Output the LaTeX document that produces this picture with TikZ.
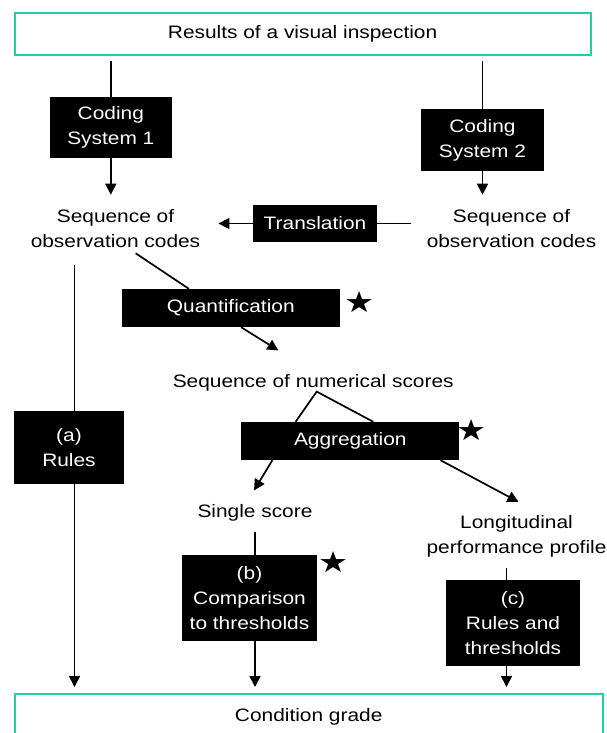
\documentclass[tikz,border=0pt]{standalone}
\usepackage{fontspec}
\setmainfont{Liberation Sans}[FakeStretch=1.16]
\newfontfamily\symfont{DejaVu Sans}[FakeStretch=1.16]
\usetikzlibrary{arrows.meta,calc}
\definecolor{frameteal}{HTML}{1DD1A1}
\begin{document}
\begin{tikzpicture}[x=1pt,y=-1pt,
  font=\fontsize{18}{25}\selectfont,
  blk/.style={fill=black,text=white,align=center,inner sep=0pt},
  txt/.style={align=center,inner sep=0pt},
  frame/.style={draw=frameteal,line width=2pt,inner sep=0pt},
  ln/.style={line width=1.7pt},
  arr/.style={ln,-{Triangle[length=11pt,width=11pt]}},
  starsym/.style={font=\symfont\fontsize{29}{29}\selectfont,inner sep=0pt}]
\clip (0,0) rectangle (606,733);
% frames
\node[frame,minimum width=576pt,minimum height=42pt] (top) at (302.6,34) {Results of a visual inspection};
\node[frame,minimum width=588pt,minimum height=46pt] (grade) at (308.7,717) {Condition grade};
% black boxes
\node[blk,minimum width=122pt,minimum height=61pt] (cs1) at (110.8,127.5) {Coding\\System 1};
\node[blk,minimum width=123pt,minimum height=62pt] (cs2) at (482.5,140) {Coding\\System 2};
\node[blk,minimum width=124pt,minimum height=37pt] (trans) at (315,223.5) {Translation};
\node[blk,minimum width=218pt,minimum height=38pt] (quant) at (230.8,308) {Quantification};
\node[blk,minimum width=218pt,minimum height=38pt] (aggr) at (350.3,441) {Aggregation};
\node[blk,minimum width=110pt,minimum height=73pt] (abox) at (69,447.5) {(a)\\Rules};
\node[blk,minimum width=135pt,minimum height=86pt] (bbox) at (249.5,598) {(b)\\Comparison\\to thresholds};
\node[blk,minimum width=134pt,minimum height=86pt] (cbox) at (513,623) {(c)\\Rules and\\thresholds};
% plain texts
\node[txt] (seq1) at (115.5,229) {Sequence of\\observation codes};
\node[txt] (seq2) at (511.5,229) {Sequence of\\observation codes};
\node[txt] (num) at (313.2,383) {Sequence of numerical scores};
\node[txt] (single) at (255,513) {Single score};
\node[txt] (long) at (516.5,536) {Longitudinal\\performance profile};
% stars
\node[starsym] (st1) at (359.6,302) {★};
\node[starsym] (st2) at (472,430) {★};
\node[starsym] (st3) at (334,562) {★};
% connectors
\draw[ln,shorten <=5pt] (top.south -| cs1.north) -- (cs1.north);
\draw[ln,shorten <=5pt] (top.south -| cs2.north) -- (cs2.north);
\draw[arr,shorten >=15pt] (cs1.south) -- (cs1.south |- seq1.north);
\draw[arr,shorten >=15pt] (cs2.south) -- (cs2.south |- seq2.north);
\draw[ln,shorten <=16pt] (seq2.west |- trans.east) -- (trans.east);
\draw[arr,shorten >=18pt] (trans.west) -- (trans.west -| seq1.east);
\draw[ln] ($(seq1.south)+(20.2,5)$) -- ($(quant.north west)+(67.2,0)$);
\draw[arr] ($(quant.south west)+(119.5,0)$) -- ($(num.north)+(-34.8,-24)$);
\draw[ln] ($(aggr.north west)+(54.5,0)$) -- ($(num.south)+(3.5,0)$) -- ($(aggr.north west)+(132.2,0)$);
\draw[arr] ($(aggr.south west)+(31.3,0)$) -- ($(single.north)+(-1,-14)$);
\draw[arr] ($(aggr.south west)+(199.4,0)$) -- ($(long.north)+(2,-13)$);
\coordinate (ax) at ($(abox.north)+(5.5,0)$);
\draw[ln,shorten <=17pt] (ax |- seq1.south) -- (ax);
\draw[arr,shorten >=6pt] (ax |- abox.south) -- (ax |- grade.north);
\draw[ln,shorten <=10pt] (single.south) -- (single.south |- bbox.north);
\draw[arr,shorten >=6pt] (single.south |- bbox.south) -- (single.south |- grade.north);
\coordinate (cx) at ($(long.south)+(-10,0)$);
\draw[ln,shorten <=11pt] (cx) -- (cx |- cbox.north);
\draw[arr,shorten >=6pt] (cx |- cbox.south) -- (cx |- grade.north);
\end{tikzpicture}
\end{document}
